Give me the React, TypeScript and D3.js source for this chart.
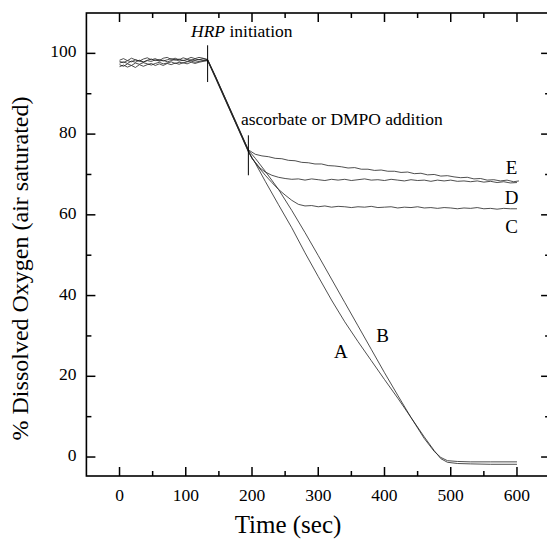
import React from "react";
import * as d3 from "d3";

// ---- data ----
const xMajorTicks = [0, 100, 200, 300, 400, 500, 600];
const xMinorTicks = [50, 150, 250, 350, 450, 550];
const yMajorTicks = [0, 20, 40, 60, 80, 100];
const yMinorTicks = [10, 30, 50, 70, 90];

const preTimes = [0, 6, 12, 18, 24, 30, 36, 42, 48, 54, 60, 66, 72, 78, 84, 90, 96, 102, 108, 114, 120, 126, 133];
const dropTimes = [145, 160, 175, 185, 194.5];

const preA = [97.6, 97.9, 97.5, 98.1, 97.8, 98.3, 97.9, 98.2, 98.0, 98.4, 98.1, 98.3, 97.9, 98.2, 98.5, 98.1, 98.3, 98.0, 98.4, 98.2, 98.5, 98.3, 98.3];
const preB = [98.3, 98.7, 98.2, 98.8, 98.4, 98.1, 98.6, 98.9, 98.4, 98.7, 98.2, 98.8, 99.0, 98.5, 98.8, 98.4, 98.9, 98.6, 99.0, 98.7, 99.0, 98.8, 98.4];
const preC = [96.7, 97.1, 96.6, 97.0, 96.5, 97.2, 96.8, 97.2, 97.5, 97.0, 97.4, 97.0, 97.5, 97.2, 97.6, 97.3, 97.7, 97.4, 97.8, 97.5, 97.8, 98.0, 98.2];
const preD = [97.2, 96.8, 97.4, 97.0, 97.6, 97.3, 97.7, 97.4, 97.1, 97.5, 97.8, 97.4, 97.6, 97.9, 97.5, 97.8, 97.6, 97.9, 98.1, 97.8, 98.0, 98.2, 98.3];
const preE = [98.0, 97.7, 98.2, 97.9, 98.4, 98.1, 97.8, 98.3, 98.6, 98.2, 98.5, 98.1, 98.4, 98.7, 98.3, 98.6, 98.2, 98.5, 98.3, 98.6, 98.4, 98.7, 98.5];

const dropA = [94.0, 88.4, 82.9, 79.2, 75.7];
const dropB = [94.2, 88.7, 83.2, 79.5, 76.0];
const dropC = [93.8, 88.3, 82.8, 79.1, 75.6];
const dropD = [94.1, 88.6, 83.0, 79.4, 75.9];
const dropE = [94.3, 88.8, 83.3, 79.6, 76.1];

const postTimesA = [205, 220, 240, 260, 280, 300, 320, 340, 360, 380, 400, 420, 440, 460, 475, 485, 495, 510, 530, 560, 600];
const postA = [72.8, 68.3, 62.5, 56.8, 50.6, 44.7, 38.9, 33.5, 28.6, 23.9, 19.2, 14.6, 9.8, 5.0, 1.6, -0.4, -1.3, -1.6, -1.7, -1.8, -1.8];
const postTimesB = [205, 220, 240, 260, 280, 300, 320, 340, 360, 380, 400, 420, 440, 460, 475, 485, 495, 510, 530, 560, 600];
const postB = [74.0, 70.8, 66.3, 61.1, 55.6, 49.9, 44.1, 38.3, 32.5, 26.7, 20.9, 15.3, 9.8, 4.6, 1.4, -0.1, -0.9, -1.1, -1.2, -1.2, -1.2];

const postTimesC = [200, 210, 220, 230, 240, 250, 260, 270, 280, 290, 300, 310, 320, 330, 340, 350, 360, 370, 380, 390, 400, 410, 420, 430, 440, 450, 460, 470, 480, 490, 500, 510, 520, 530, 540, 550, 560, 570, 580, 590, 600];
const postC = [74.0, 71.8, 69.8, 68.0, 66.3, 64.9, 63.6, 62.6, 62.2, 62.3, 62.0, 62.2, 61.9, 62.1, 62.0, 61.8, 62.0, 61.9, 62.1, 61.8, 61.9, 62.0, 61.7, 61.9, 61.8, 62.0, 61.7, 61.8, 61.6, 61.8, 61.7, 61.5, 61.7, 61.6, 61.8, 61.5, 61.6, 61.4, 61.6, 61.5, 61.5];

const postTimesD = [200, 205, 212, 220, 230, 240, 250, 260, 270, 280, 290, 300, 310, 320, 330, 340, 350, 360, 370, 380, 390, 400, 410, 420, 430, 440, 450, 460, 470, 480, 490, 500, 510, 520, 530, 540, 550, 560, 570, 580, 590, 600];
const postD = [74.0, 73.0, 71.6, 70.6, 69.8, 69.3, 69.0, 68.8, 68.9, 68.6, 68.9, 68.7, 68.5, 68.8, 68.6, 68.8, 68.5, 68.7, 68.9, 68.6, 68.7, 68.5, 68.8, 68.6, 68.4, 68.7, 68.5, 68.6, 68.3, 68.6, 68.4, 68.6, 68.3, 68.4, 68.2, 68.4, 68.1, 68.3, 68.0, 68.2, 67.9, 68.0];

const postTimesE = [205, 215, 225, 235, 245, 255, 265, 275, 285, 295, 305, 315, 325, 335, 345, 355, 365, 375, 385, 395, 405, 415, 425, 435, 445, 455, 465, 475, 485, 495, 505, 515, 525, 535, 545, 555, 565, 575, 585, 595, 603];
const postE = [75.0, 74.6, 74.4, 74.0, 73.9, 73.5, 73.4, 73.0, 72.9, 72.6, 72.6, 72.2, 72.1, 71.9, 71.6, 71.7, 71.3, 71.3, 71.0, 71.1, 70.8, 70.8, 70.5, 70.6, 70.2, 70.3, 69.9, 70.0, 69.6, 69.7, 69.4, 69.2, 69.3, 68.9, 69.0, 68.6, 68.7, 68.4, 68.6, 68.2, 68.4];

const seriesNames = ["A", "B", "C", "D", "E"];
const curveLabels = [
  { name: "A", t: 334, v: 25.5 },
  { name: "B", t: 397, v: 29.5 },
  { name: "C", t: 592, v: 56.5 },
  { name: "D", t: 592, v: 63.8 },
  { name: "E", t: 592, v: 71.2 },
];

const hrpTime = 133;
const hrpMarker = [102, 92.9];
const additionTime = 194.5;
const additionMarker = [79.7, 69.8];

// ---- build series ----
function build(pre: number[], drop: number[], postT: number[], post: number[]) {
  const pts: [number, number][] = [];
  preTimes.forEach((t, i) => pts.push([t, pre[i]]));
  dropTimes.forEach((t, i) => pts.push([t, drop[i]]));
  postT.forEach((t, i) => pts.push([t, post[i]]));
  return pts;
}

const allSeries = [
  build(preA, dropA, postTimesA, postA),
  build(preB, dropB, postTimesB, postB),
  build(preC, dropC, postTimesC, postC),
  build(preD, dropD, postTimesD, postD),
  build(preE, dropE, postTimesE, postE),
];

const FONT = '"Liberation Serif", "DejaVu Serif", serif';

export default function App() {
  const W = 547;
  const H = 544;
  const left = 86.4;
  const right = 550.1;
  const top = 13;
  const bottom = 476;
  const x = d3.scaleLinear().domain([-50, 650]).range([left, right]);
  const y = d3.scaleLinear().domain([-4.7, 110]).range([bottom, top]);
  const line = d3
    .line<[number, number]>()
    .x((d) => x(d[0]))
    .y((d) => y(d[1]));

  const majorLen = 9;
  const minorLen = 5;
  const ts = { fontFamily: FONT };

  return (
    <svg
      width={W}
      height={H}
      style={{ position: "absolute", left: 0, top: 0, background: "#fff", fontFamily: FONT }}
    >
      <rect x={0} y={0} width={W} height={H} fill="#fff" />
      {/* curves */}
      <g fill="none" stroke="#222" strokeWidth={0.8}>
        {allSeries.map((s, i) => (
          <path key={seriesNames[i]} d={line(s) || ""} />
        ))}
      </g>
      {/* frame */}
      <rect
        x={left}
        y={top}
        width={right - left}
        height={bottom - top}
        fill="none"
        stroke="#000"
        strokeWidth={1.6}
      />
      {/* ticks */}
      <g stroke="#000" strokeWidth={1.5}>
        {xMajorTicks.map((t) => (
          <g key={"xM" + t}>
            <line x1={x(t)} x2={x(t)} y1={bottom} y2={bottom - majorLen} />
            <line x1={x(t)} x2={x(t)} y1={top} y2={top + majorLen} />
          </g>
        ))}
        {xMinorTicks.map((t) => (
          <g key={"xm" + t}>
            <line x1={x(t)} x2={x(t)} y1={bottom} y2={bottom - minorLen} />
            <line x1={x(t)} x2={x(t)} y1={top} y2={top + minorLen} />
          </g>
        ))}
        {yMajorTicks.map((t) => (
          <g key={"yM" + t}>
            <line x1={left} x2={left + majorLen} y1={y(t)} y2={y(t)} />
            <line x1={right} x2={right - majorLen} y1={y(t)} y2={y(t)} />
          </g>
        ))}
        {yMinorTicks.map((t) => (
          <g key={"ym" + t}>
            <line x1={left} x2={left + minorLen} y1={y(t)} y2={y(t)} />
            <line x1={right} x2={right - minorLen} y1={y(t)} y2={y(t)} />
          </g>
        ))}
      </g>
      {/* tick labels */}
      <g fontSize={17.5} fill="#000">
        {xMajorTicks.map((t) => (
          <text key={"xl" + t} style={ts} x={x(t)} y={bottom + 21} textAnchor="middle" dominantBaseline="middle">
            {t}
          </text>
        ))}
        {yMajorTicks.map((t) => (
          <text key={"yl" + t} style={ts} x={left - 10} y={y(t)} textAnchor="end" dominantBaseline="middle">
            {t}
          </text>
        ))}
      </g>
      {/* axis titles */}
      <text style={ts} x={288} y={527} textAnchor="middle" dominantBaseline="middle" fontSize={25}>
        Time (sec)
      </text>
      <text
        style={ts}
        transform={`translate(22, 268.5) rotate(-90)`}
        textAnchor="middle"
        dominantBaseline="middle"
        fontSize={24}
      >
        % Dissolved Oxygen (air saturated)
      </text>
      {/* markers */}
      <g stroke="#000" strokeWidth={1}>
        <line x1={x(hrpTime)} x2={x(hrpTime)} y1={y(hrpMarker[0])} y2={y(hrpMarker[1])} />
        <line x1={x(additionTime)} x2={x(additionTime)} y1={y(additionMarker[0])} y2={y(additionMarker[1])} />
      </g>
      <text style={ts} x={191} y={33} fontSize={17.5} dominantBaseline="middle">
        <tspan fontStyle="italic">HRP</tspan> initiation
      </text>
      <text style={ts} x={241} y={121} fontSize={17.5} dominantBaseline="middle">
        ascorbate or DMPO addition
      </text>
      {/* curve labels */}
      <g fontSize={19}>
        {curveLabels.map((l) => (
          <text key={l.name} style={ts} x={x(l.t)} y={y(l.v)} textAnchor="middle" dominantBaseline="middle">
            {l.name}
          </text>
        ))}
      </g>
    </svg>
  );
}
